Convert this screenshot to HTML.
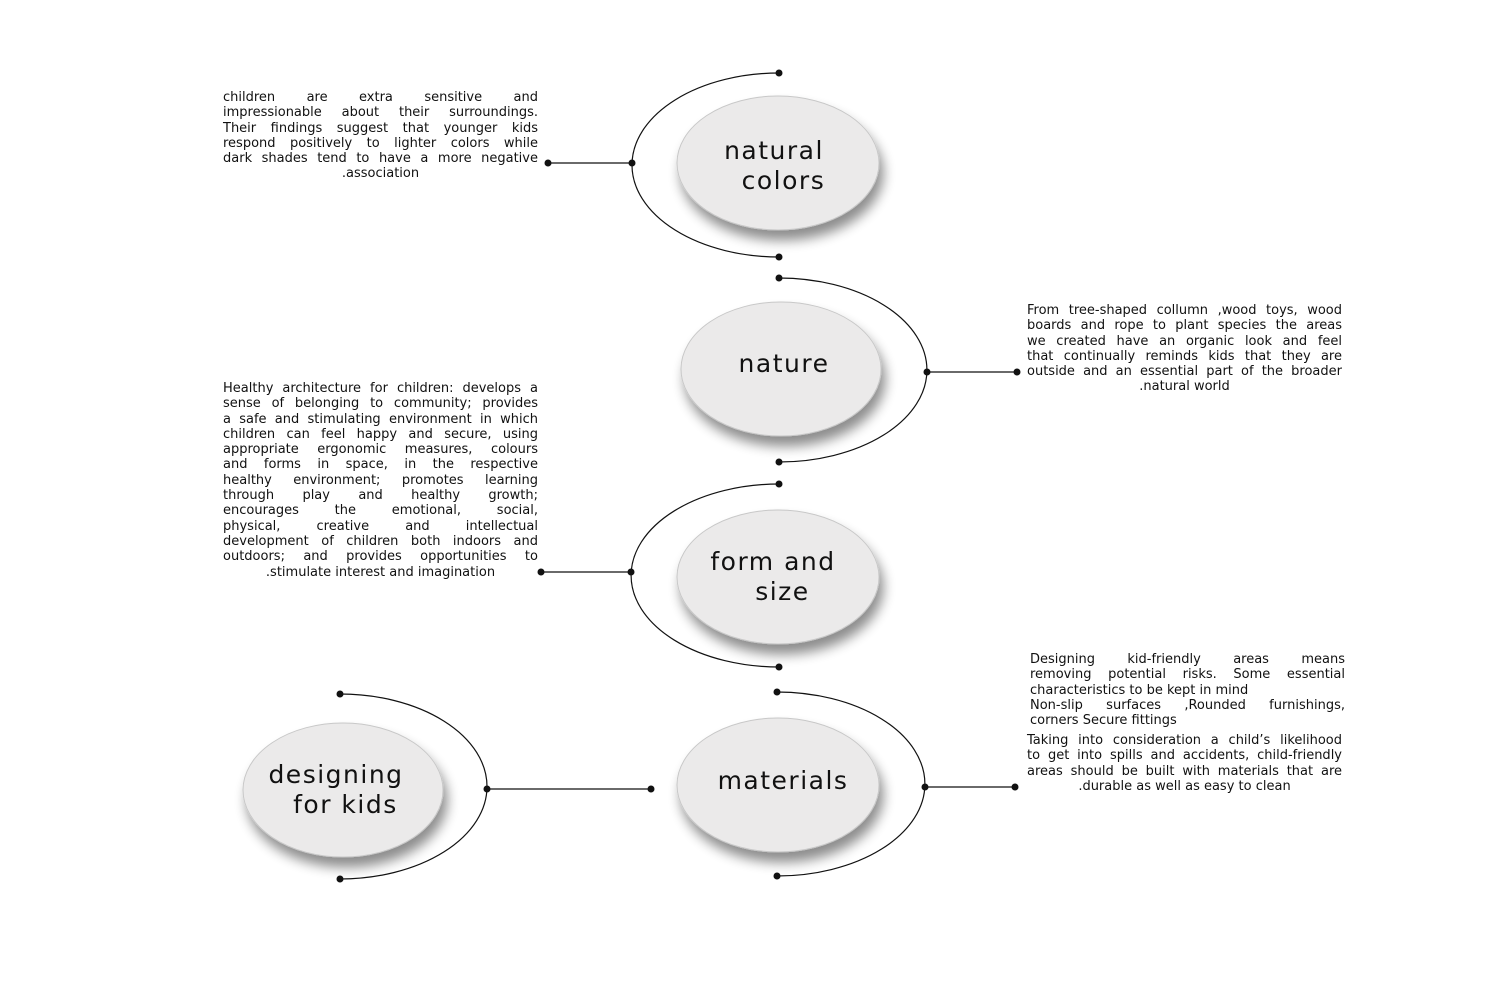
<!DOCTYPE html>
<html><head><meta charset="utf-8"><style>
html,body{margin:0;padding:0;background:#fff;width:1500px;height:1000px;overflow:hidden;position:relative}
.t{position:absolute;font-family:"DejaVu Sans","Liberation Sans",sans-serif;font-size:13px;line-height:15.3px;color:#111;}
.t div{text-align:justify;text-align-last:justify;white-space:nowrap;overflow:visible}
.t div.c{text-align:center;text-align-last:center}
.t div.l{text-align:left;text-align-last:left}
.lab{position:absolute;font-family:"DejaVu Sans","Liberation Sans",sans-serif;font-size:25px;color:#111;text-align:center;line-height:30px;letter-spacing:1.5px;font-weight:normal}
</style></head><body>
<svg width="1500" height="1000" style="position:absolute;left:0;top:0">
<defs>
<filter id="sh" x="-30%" y="-30%" width="160%" height="170%">
<feGaussianBlur in="SourceAlpha" stdDeviation="6"/>
<feOffset dx="4" dy="10" result="b"/>
<feComponentTransfer><feFuncA type="linear" slope="0.45"/></feComponentTransfer>
<feMerge><feMergeNode/><feMergeNode in="SourceGraphic"/></feMerge>
</filter>
</defs>
<g fill="#ebeaea" stroke="#c8c8c8" stroke-width="1" filter="url(#sh)">
<ellipse cx="778" cy="163" rx="101" ry="67"/>
<ellipse cx="781" cy="369" rx="100" ry="67"/>
<ellipse cx="778" cy="577" rx="101" ry="67"/>
<ellipse cx="778" cy="785" rx="101" ry="67"/>
<ellipse cx="343" cy="790" rx="100" ry="67"/>
</g>
<g fill="none" stroke="#111" stroke-width="1.2">
<path d="M779,73 A147,92 0 0 0 779,257"/>
<line x1="548" y1="163" x2="632" y2="163"/>
<path d="M779,278 A148,92 0 0 1 779,462"/>
<line x1="927" y1="372" x2="1017" y2="372"/>
<path d="M779,484 A148,91.5 0 0 0 779,667"/>
<line x1="541" y1="572" x2="631" y2="572"/>
<path d="M777,692 A148,92 0 0 1 777,876"/>
<line x1="925" y1="787" x2="1015" y2="787"/>
<path d="M340,694 A147,92.5 0 0 1 340,879"/>
<line x1="487" y1="789" x2="651" y2="789"/>
</g>
<g fill="#111">
<circle cx="779" cy="73" r="3.5"/><circle cx="779" cy="257" r="3.5"/><circle cx="632" cy="163" r="3.5"/><circle cx="548" cy="163" r="3.5"/>
<circle cx="779" cy="278" r="3.5"/><circle cx="779" cy="462" r="3.5"/><circle cx="927" cy="372" r="3.5"/><circle cx="1017" cy="372" r="3.5"/>
<circle cx="779" cy="484" r="3.5"/><circle cx="779" cy="667" r="3.5"/><circle cx="631" cy="572" r="3.5"/><circle cx="541" cy="572" r="3.5"/>
<circle cx="777" cy="692" r="3.5"/><circle cx="777" cy="876" r="3.5"/><circle cx="925" cy="787" r="3.5"/><circle cx="1015" cy="787" r="3.5"/>
<circle cx="340" cy="694" r="3.5"/><circle cx="340" cy="879" r="3.5"/><circle cx="487" cy="789" r="3.5"/><circle cx="651" cy="789" r="3.5"/>
</g>
</svg>

<div class="lab" style="left:674px;top:136px;width:200px">natural<br>&nbsp;&nbsp;colors</div>
<div class="lab" style="left:684px;top:349px;width:200px">nature</div>
<div class="lab" style="left:673px;top:547px;width:200px">form and<br>&nbsp;&nbsp;size</div>
<div class="lab" style="left:683px;top:766px;width:200px">materials</div>
<div class="lab" style="left:236px;top:760px;width:200px">designing<br>&nbsp;&nbsp;for kids</div>

<div class="t" style="left:223px;top:90px;width:315px">
<div>children are extra sensitive and</div>
<div>impressionable about their surroundings.</div>
<div>Their findings suggest that younger kids</div>
<div>respond positively to lighter colors while</div>
<div>dark shades tend to have a more negative</div>
<div class="c">.association</div>
</div>

<div class="t" style="left:1027px;top:303px;width:315px">
<div>From tree-shaped collumn ,wood toys, wood</div>
<div>boards and rope to plant species the areas</div>
<div>we created have an organic look and feel</div>
<div>that continually reminds kids that they are</div>
<div>outside and an essential part of the broader</div>
<div class="c">.natural world</div>
</div>

<div class="t" style="left:223px;top:381px;width:315px">
<div>Healthy architecture for children: develops a</div>
<div>sense of belonging to community; provides</div>
<div>a safe and stimulating environment in which</div>
<div>children can feel happy and secure, using</div>
<div>appropriate ergonomic measures, colours</div>
<div>and forms in space, in the respective</div>
<div>healthy environment; promotes learning</div>
<div>through play and healthy growth;</div>
<div>encourages the emotional, social,</div>
<div>physical, creative and intellectual</div>
<div>development of children both indoors and</div>
<div>outdoors; and provides opportunities to</div>
<div class="c">.stimulate interest and imagination</div>
</div>

<div class="t" style="left:1030px;top:652px;width:315px">
<div>Designing kid-friendly areas means</div>
<div>removing potential risks. Some essential</div>
<div class="l">characteristics to be kept in mind</div>
<div>Non-slip surfaces ,Rounded furnishings,</div>
<div class="l">corners Secure fittings</div>
</div>

<div class="t" style="left:1027px;top:733px;width:315px">
<div>Taking into consideration a child’s likelihood</div>
<div>to get into spills and accidents, child-friendly</div>
<div>areas should be built with materials that are</div>
<div class="c">.durable as well as easy to clean</div>
</div>
</body></html>
